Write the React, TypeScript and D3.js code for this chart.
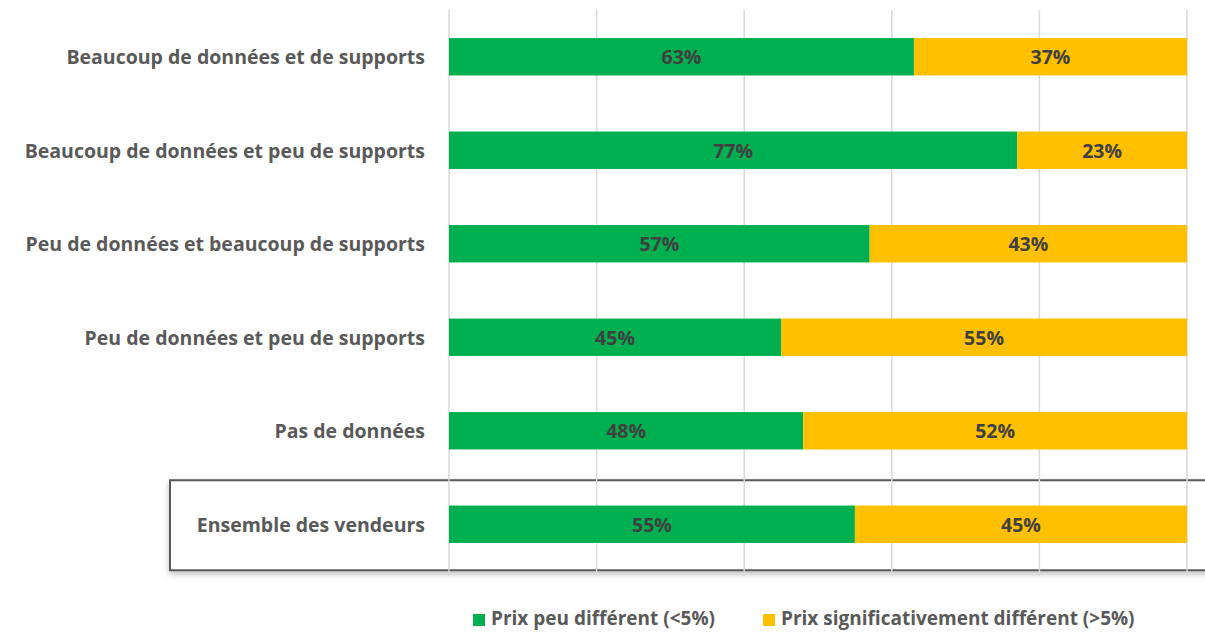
import { useEffect, useRef } from "react";
import * as d3 from "d3";

const categories = [
  "Beaucoup de données et de supports",
  "Beaucoup de données et peu de supports",
  "Peu de données et beaucoup de supports",
  "Peu de données et peu de supports",
  "Pas de données",
  "Ensemble des vendeurs",
];
const peuDifferent = [63, 77, 57, 45, 48, 55];
const significatif = [37, 23, 43, 55, 52, 45];
const seriesNames = ["Prix peu différent (<5%)", "Prix significativement différent (>5%)"];
const colors = ["#00B050", "#FFC000"];
const ticks = [0, 20, 40, 60, 80, 100];

const width = 1205;
const height = 632;
const font = "'Open Sans', 'Noto Sans', sans-serif";
const fontSize = 19.5;

export default function App() {
  const ref = useRef<SVGSVGElement | null>(null);

  useEffect(() => {
    const svg = d3.select(ref.current);
    svg.selectAll("*").remove();

    const x = d3.scaleLinear([0, 100], [449, 1187]);
    const y = d3.scaleBand(categories, [10, 571]).paddingInner(0.6).paddingOuter(0.3);

    const defs = svg.append("defs");
    const f = defs.append("filter").attr("id", "shadow").attr("x", "-5%").attr("y", "-20%").attr("width", "110%").attr("height", "150%");
    f.append("feDropShadow").attr("dx", 0).attr("dy", 3).attr("stdDeviation", 3).attr("flood-color", "#000").attr("flood-opacity", 0.25);

    // highlight box round the last category
    const last = categories[categories.length - 1];
    const by = y(last)! + y.bandwidth() / 2;
    svg.append("rect")
      .attr("x", 170).attr("y", by - 44)
      .attr("width", 1060).attr("height", 90)
      .attr("fill", "white")
      .attr("stroke", "#595959").attr("stroke-width", 2)
      .attr("filter", "url(#shadow)");

    // grid lines
    svg.append("g")
      .selectAll("line")
      .data(ticks)
      .join("line")
      .attr("x1", d => x(d)).attr("x2", d => x(d))
      .attr("y1", 10).attr("y2", 576)
      .attr("stroke", "#d9d9d9").attr("stroke-width", 1.5);

    const rows = categories.map((c, i) => ({ c, a: peuDifferent[i], b: significatif[i] }));

    const g = svg.append("g");
    g.selectAll("rect.a").data(rows).join("rect")
      .attr("x", x(0)).attr("y", d => y(d.c)!)
      .attr("width", d => x(d.a) - x(0)).attr("height", y.bandwidth())
      .attr("fill", colors[0]);
    g.selectAll("rect.b").data(rows).join("rect")
      .attr("x", d => x(d.a)).attr("y", d => y(d.c)!)
      .attr("width", d => x(d.a + d.b) - x(d.a)).attr("height", y.bandwidth())
      .attr("fill", colors[1]);

    const labelStyle = (sel: any) => sel
      .attr("font-family", font).attr("font-weight", 700).attr("font-size", fontSize)
      .attr("fill", "#404040").attr("text-anchor", "middle").attr("dominant-baseline", "central");

    g.selectAll("text.a").data(rows).join("text")
      .attr("x", d => (x(0) + x(d.a)) / 2).attr("y", d => y(d.c)! + y.bandwidth() / 2)
      .call(labelStyle).text(d => `${d.a}%`);
    g.selectAll("text.b").data(rows).join("text")
      .attr("x", d => (x(d.a) + x(d.a + d.b)) / 2).attr("y", d => y(d.c)! + y.bandwidth() / 2)
      .call(labelStyle).text(d => `${d.b}%`);

    // category labels
    svg.append("g").selectAll("text").data(categories).join("text")
      .attr("x", 425).attr("y", d => y(d)! + y.bandwidth() / 2)
      .attr("text-anchor", "end").attr("dominant-baseline", "central")
      .attr("font-family", font).attr("font-weight", 700).attr("font-size", fontSize)
      .attr("fill", "#595959")
      .text(d => d);

    // legend
    const legend = svg.append("g").attr("transform", "translate(473,618)");
    const offsets = [0, 290];
    seriesNames.forEach((s, i) => {
      const lg = legend.append("g").attr("transform", `translate(${offsets[i]},0)`);
      lg.append("rect").attr("x", 0).attr("y", -4).attr("width", 12).attr("height", 12).attr("fill", colors[i]);
      lg.append("text").attr("x", 18).attr("y", 0)
        .attr("dominant-baseline", "central")
        .attr("font-family", font).attr("font-weight", 700).attr("font-size", 19)
        .attr("fill", "#595959").text(s);
    });
  }, []);

  return (
    <div style={{ position: "absolute", left: 0, top: 0 }}>
      <svg ref={ref} width={width} height={height} style={{ display: "block" }} />
    </div>
  );
}
